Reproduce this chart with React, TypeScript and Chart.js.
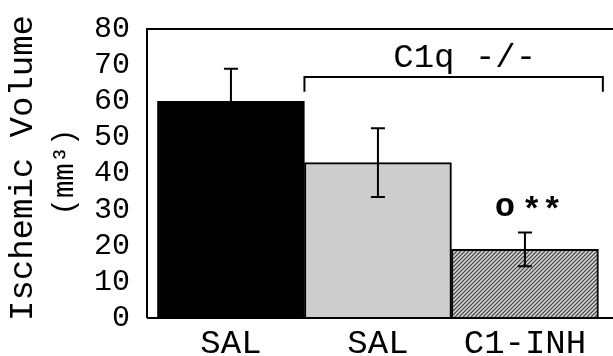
import React, { useEffect, useRef } from "react";
import { Chart, registerables } from "chart.js";

Chart.register(...registerables);

const categories = ["SAL", "SAL", "C1-INH"];
const values = [60, 43, 19];
const errors = [9, 9.5, 4.7];
const yTicks = [0, 10, 20, 30, 40, 50, 60, 70, 80];
const groupLabel = "C1q -/-";
const groupStart = 0.5;
const groupEnd = 2.53;
const groupY = 66.7;
const groupTickY = 62.6;
const sigCircle = "o";
const sigStars = "**";
const yTitle = "Ischemic Volume";
const yUnit = "(mm³)";

const FONT = "'Liberation Mono', 'DejaVu Sans Mono', monospace";

function makeHatch(): CanvasPattern | string {
  const c = document.createElement("canvas");
  c.width = 4;
  c.height = 4;
  const g = c.getContext("2d");
  if (!g) return "#bbb";
  g.fillStyle = "#d2d2d2";
  g.fillRect(0, 0, 4, 4);
  g.strokeStyle = "#3a3a3a";
  g.lineWidth = 1.1;
  g.beginPath();
  g.moveTo(0, 4);
  g.lineTo(4, 0);
  g.moveTo(-2, 2);
  g.lineTo(2, -2);
  g.moveTo(2, 6);
  g.lineTo(6, 2);
  g.stroke();
  const p = g.createPattern(c, "repeat");
  return p || "#bbb";
}

const overlay = {
  id: "overlay",
  afterDatasetsDraw(chart: any) {
    const ctx = chart.ctx;
    const xs = chart.scales.x;
    const ys = chart.scales.y;
    const area = chart.chartArea;
    ctx.save();
    ctx.strokeStyle = "#000";
    ctx.fillStyle = "#000";
    // frame
    ctx.lineWidth = 2;
    ctx.beginPath();
    ctx.moveTo(area.left, area.bottom);
    ctx.lineTo(area.left, area.top);
    ctx.lineTo(area.right + 2, area.top);
    ctx.moveTo(area.left, area.bottom);
    ctx.lineTo(area.right + 2, area.bottom);
    ctx.stroke();
    // error bars
    values.forEach((v, i) => {
      const x = xs.getPixelForValue(i);
      const yt = ys.getPixelForValue(v + errors[i]);
      const yb = ys.getPixelForValue(v - errors[i]);
      ctx.lineWidth = 2;
      ctx.beginPath();
      ctx.moveTo(x, yt);
      ctx.lineTo(x, yb);
      ctx.moveTo(x - 7, yt);
      ctx.lineTo(x + 7, yt);
      ctx.moveTo(x - 7, yb);
      ctx.lineTo(x + 7, yb);
      ctx.stroke();
    });
    // bracket
    const bx1 = xs.getPixelForValue(groupStart);
    const bx2 = xs.getPixelForValue(groupEnd);
    const by = ys.getPixelForValue(groupY);
    const byt = ys.getPixelForValue(groupTickY);
    ctx.lineWidth = 2;
    ctx.beginPath();
    ctx.moveTo(bx1, byt);
    ctx.lineTo(bx1, by);
    ctx.lineTo(bx2, by);
    ctx.lineTo(bx2, byt);
    ctx.stroke();
    ctx.font = `34px ${FONT}`;
    ctx.textAlign = "center";
    ctx.textBaseline = "alphabetic";
    ctx.fillText(groupLabel, xs.getPixelForValue(1.59), ys.getPixelForValue(69.5));
    // significance
    ctx.font = `bold 34px ${FONT}`;
    ctx.fillText(sigCircle, xs.getPixelForValue(1.864), ys.getPixelForValue(28.2));
    ctx.fillText(sigStars, xs.getPixelForValue(2.116), ys.getPixelForValue(27.2));
    ctx.restore();
  },
  afterDraw(chart: any) {
    const ctx = chart.ctx;
    ctx.save();
    ctx.fillStyle = "#000";
    ctx.textAlign = "center";
    ctx.textBaseline = "middle";
    ctx.translate(23, 168);
    ctx.rotate(-Math.PI / 2);
    ctx.font = `34px ${FONT}`;
    ctx.fillText(yTitle, 0, 0);
    ctx.restore();
    ctx.save();
    ctx.fillStyle = "#000";
    ctx.textAlign = "center";
    ctx.textBaseline = "middle";
    ctx.translate(65, 172);
    ctx.rotate(-Math.PI / 2);
    ctx.font = `29px ${FONT}`;
    ctx.fillText(yUnit, 0, 0);
    ctx.restore();
  },
};

export default function App() {
  const ref = useRef<HTMLCanvasElement | null>(null);
  useEffect(() => {
    document.body.style.margin = "0";
    const canvas = ref.current;
    if (!canvas) return;
    const hatch = makeHatch();
    const chart = new Chart(canvas, {
      type: "bar",
      data: {
        datasets: [
          {
            data: values.map((v, i) => ({ x: i, y: v })),
            backgroundColor: ["#000000", "#cdcdcd", hatch as any],
            borderColor: "#000",
            borderWidth: 2,
            borderSkipped: "bottom",
            barPercentage: 1,
            categoryPercentage: 1,
          },
        ],
      },
      options: {
        animation: false,
        responsive: false,
        maintainAspectRatio: false,
        layout: { padding: { top: 29, left: 0, right: 0, bottom: 0 } },
        plugins: { legend: { display: false }, tooltip: { enabled: false }, title: { display: false } },
        scales: {
          x: {
            type: "linear",
            offset: false,
            min: -0.571,
            max: 2.599,
            grid: { display: false, drawTicks: false, offset: false },
            border: { display: false },
            afterBuildTicks: (s: any) => {
              s.ticks = categories.map((_, i) => ({ value: i }));
            },
            afterFit: (s: any) => {
              s.height = 38;
              s.paddingLeft = 0;
              s.paddingRight = 0;
            },
            ticks: {
              autoSkip: false,
              maxRotation: 0,
              padding: 6,
              color: "#000",
              font: { family: FONT, size: 34 },
              callback: (v: any) => categories[v as number] ?? "",
            },
          },
          y: {
            min: 0,
            max: 80,
            grid: { display: false, drawTicks: false },
            border: { display: false },
            afterBuildTicks: (s: any) => {
              s.ticks = yTicks.map((v) => ({ value: v }));
            },
            afterFit: (s: any) => {
              s.width = 147;
              s.paddingTop = 0;
              s.paddingBottom = 0;
            },
            ticks: {
              autoSkip: false,
              padding: 17,
              color: "#000",
              font: { family: FONT, size: 30 },
            },
          },
        },
      },
      plugins: [overlay],
    });
    return () => chart.destroy();
  }, []);
  return <canvas ref={ref} width={613} height={356} style={{ display: "block" }} />;
}
